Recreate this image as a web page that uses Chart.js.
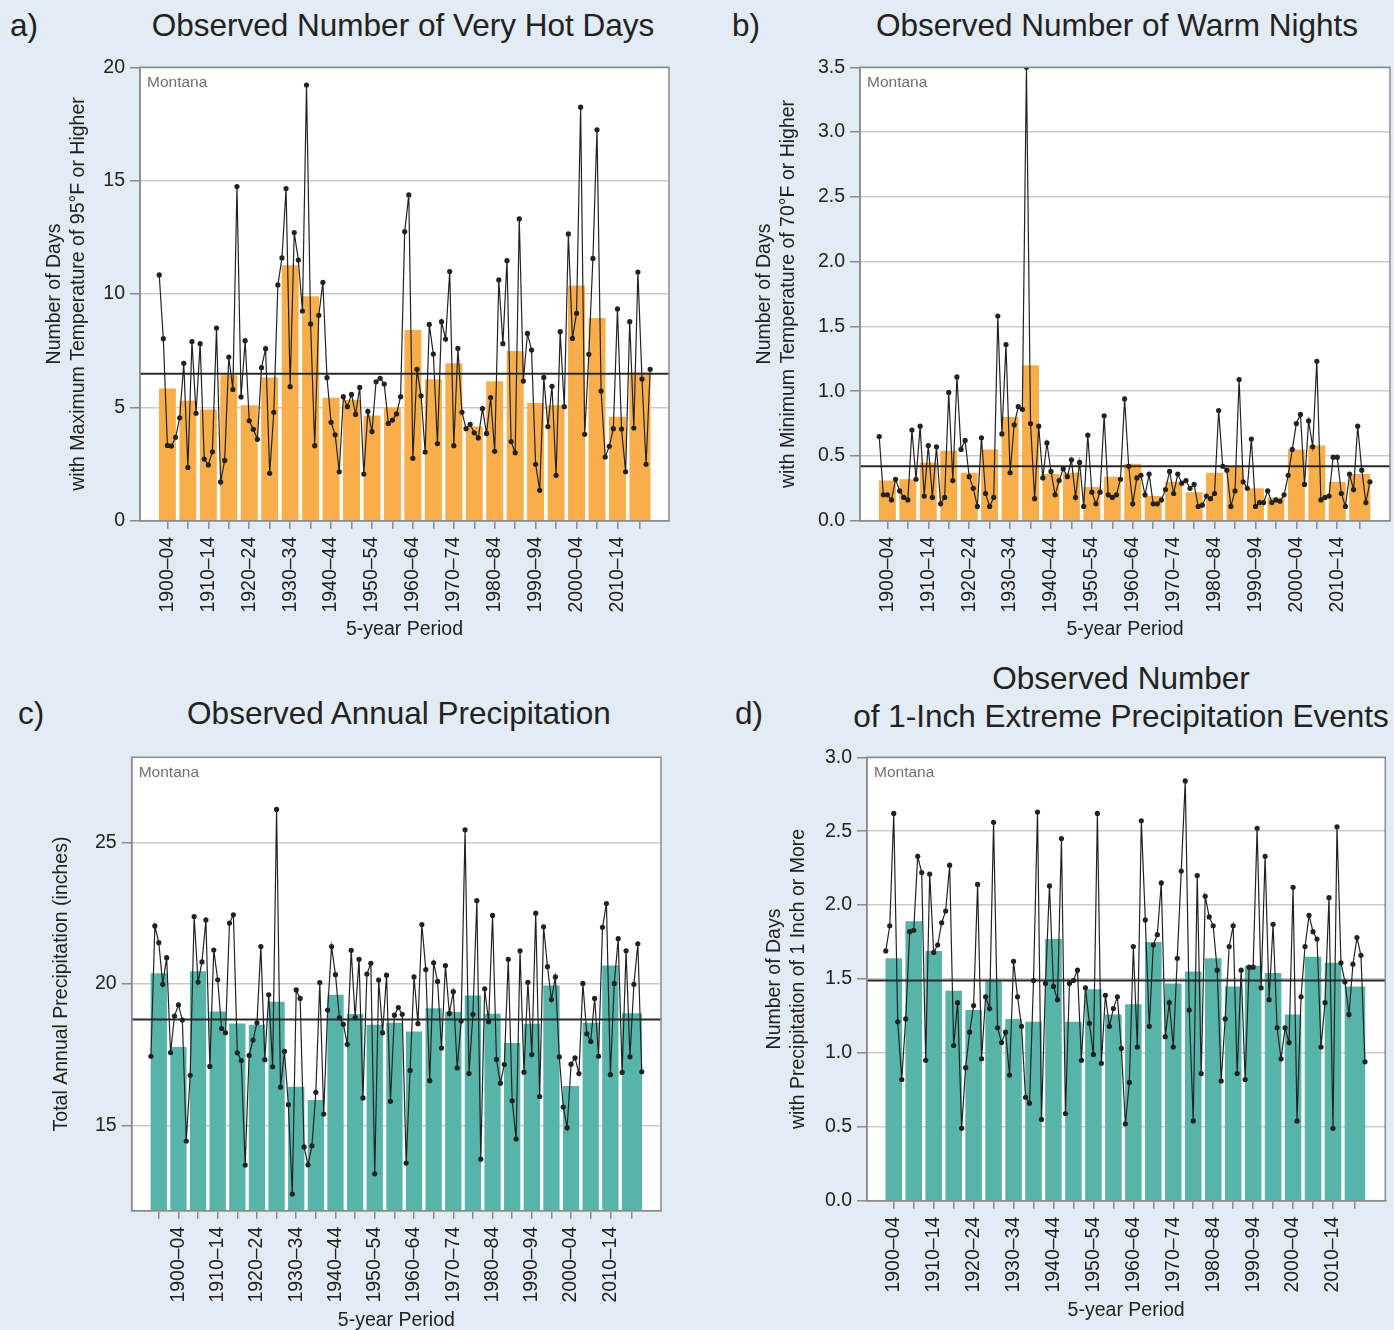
<!DOCTYPE html>
<html>
<head>
<meta charset="utf-8">
<script src="https://cdn.jsdelivr.net/npm/chart.js@4.4.0/dist/chart.umd.min.js"></script>
<style>
  body { margin: 0; background: #e3ebf4; font-family: "Liberation Sans", Arial, sans-serif; color: #222; }
  #page { position: relative; width: 1394px; height: 1330px; overflow: hidden; }
  .panel { position: absolute; }
  .tag, .title { position: absolute; font-size: 31.5px; line-height: 32px; white-space: nowrap; }
  .title { transform: translateX(-50%); text-align: center; }
</style>
</head>
<body>
<div id="page">
  <div class="tag" style="left:10px;top:9px">a)</div>
  <div class="title" style="left:403px;top:9px">Observed Number of Very Hot Days</div>
  <div class="tag" style="left:732px;top:9px">b)</div>
  <div class="title" style="left:1117px;top:9px">Observed Number of Warm Nights</div>
  <div class="tag" style="left:18px;top:697px">c)</div>
  <div class="title" style="left:399px;top:697px">Observed Annual Precipitation</div>
  <div class="tag" style="left:735px;top:697px">d)</div>
  <div class="title" style="left:1121px;top:659px;line-height:38px">Observed Number<br>of 1-Inch Extreme Precipitation Events</div>

  <canvas id="chartA" class="panel" width="697" height="665" style="left:0;top:0"></canvas>
  <canvas id="chartB" class="panel" width="697" height="665" style="left:697px;top:0"></canvas>
  <canvas id="chartC" class="panel" width="697" height="665" style="left:0;top:665px"></canvas>
  <canvas id="chartD" class="panel" width="697" height="665" style="left:697px;top:665px"></canvas>
</div>

<script>
// ---- categories ----
const years1900 = [];
for (let y = 1900; y <= 2020; y++) years1900.push(y);
const years1895 = [];
for (let y = 1895; y <= 2020; y++) years1895.push(y);

const periods1900 = ["1900–04","1905–09","1910–14","1915–19","1920–24","1925–29","1930–34","1935–39",
  "1940–44","1945–49","1950–54","1955–59","1960–64","1965–69","1970–74","1975–79","1980–84","1985–89",
  "1990–94","1995–99","2000–04","2005–09","2010–14","2015–20"];
const periods1895 = ["1895–99"].concat(periods1900);

// ---- a) very hot days ----
const hotDays = [
  10.84, 8.03, 3.32, 3.29, 3.68, 4.54, 6.94, 2.35, 7.90, 4.74,
  7.81, 2.72, 2.46, 3.04, 8.50, 1.71, 2.66, 7.22, 5.79, 14.74,
  5.46, 7.94, 4.41, 4.03, 3.59, 6.75, 7.59, 2.09, 4.78, 10.40,
  11.59, 14.65, 5.91, 12.71, 11.50, 9.25, 19.22, 8.68, 3.31, 9.06,
  10.51, 6.31, 4.34, 3.79, 2.16, 5.47, 5.03, 5.57, 4.69, 5.88,
  2.06, 4.82, 3.93, 6.13, 6.28, 6.03, 4.29, 4.44, 4.71, 5.47,
  12.75, 14.37, 2.75, 6.68, 5.51, 3.03, 8.66, 7.35, 3.40, 8.78,
  8.01, 10.99, 3.31, 7.60, 4.78, 4.06, 4.25, 3.88, 3.65, 4.94,
  3.85, 5.43, 3.06, 10.62, 7.81, 11.47, 3.49, 3.00, 13.31, 6.16,
  8.26, 7.53, 2.49, 1.34, 6.32, 4.15, 5.93, 2.00, 8.34, 5.03,
  12.65, 8.04, 9.15, 18.24, 3.81, 7.34, 11.57, 17.24, 5.72, 2.81,
  3.28, 4.06, 9.34, 4.04, 2.16, 8.78, 4.09, 10.97, 6.25, 2.49,
  6.68];
const hotBars = [5.83, 5.29, 4.91, 6.42, 5.09, 6.32, 11.27, 9.90, 5.42, 5.33, 4.64, 4.99,
  8.41, 6.24, 6.94, 4.16, 6.15, 7.49, 5.19, 5.09, 10.38, 8.94, 4.58, 6.54];
const hotAverage = 6.48;

// ---- b) warm nights ----
const warmNights = [
  0.65, 0.20, 0.20, 0.16, 0.32, 0.23, 0.18, 0.16, 0.70, 0.32,
  0.73, 0.19, 0.58, 0.18, 0.57, 0.13, 0.18, 0.99, 0.31, 1.11,
  0.55, 0.62, 0.34, 0.25, 0.11, 0.64, 0.21, 0.11, 0.18, 1.58,
  0.67, 1.36, 0.37, 0.74, 0.88, 0.86, 3.50, 0.75, 0.17, 0.73,
  0.33, 0.60, 0.38, 0.20, 0.31, 0.40, 0.34, 0.47, 0.18, 0.45,
  0.11, 0.66, 0.22, 0.13, 0.22, 0.81, 0.20, 0.18, 0.20, 0.32,
  0.94, 0.42, 0.13, 0.33, 0.35, 0.20, 0.36, 0.13, 0.13, 0.16,
  0.24, 0.38, 0.21, 0.36, 0.29, 0.31, 0.25, 0.28, 0.11, 0.12,
  0.19, 0.17, 0.21, 0.85, 0.42, 0.39, 0.11, 0.23, 1.09, 0.30,
  0.25, 0.63, 0.11, 0.14, 0.14, 0.23, 0.14, 0.16, 0.15, 0.20,
  0.35, 0.55, 0.75, 0.82, 0.28, 0.77, 0.57, 1.23, 0.16, 0.18,
  0.19, 0.49, 0.49, 0.21, 0.11, 0.36, 0.24, 0.73, 0.39, 0.14,
  0.30];
const warmBars = [0.31, 0.32, 0.45, 0.54, 0.37, 0.55, 0.80, 1.20, 0.36, 0.37, 0.26, 0.34,
  0.44, 0.19, 0.30, 0.22, 0.37, 0.42, 0.25, 0.18, 0.55, 0.58, 0.30, 0.36];
const warmAverage = 0.42;

// ---- c) annual precipitation (inches), from 1895 ----
const precip = [
  17.45, 22.05, 21.46, 19.99, 20.93,
  17.58, 18.87, 19.26, 18.73, 14.46, 16.78, 22.38, 20.07, 20.78, 22.26,
  17.09, 21.20, 20.15, 18.43, 18.28, 22.15, 22.44, 17.57, 17.30, 13.61,
  17.48, 18.02, 18.63, 21.32, 17.33, 19.62, 17.08, 26.16, 16.36, 17.62,
  15.74, 12.59, 19.79, 19.49, 14.25, 13.62, 14.29, 16.18, 20.05, 15.41,
  19.08, 21.32, 20.33, 18.81, 18.58, 17.87, 21.19, 18.81, 20.87, 15.98,
  20.35, 20.73, 13.30, 20.14, 18.28, 20.31, 15.86, 18.90, 19.17, 18.93,
  13.68, 16.95, 20.25, 18.60, 22.10, 20.51, 16.59, 20.75, 20.09, 17.74,
  20.65, 18.96, 19.73, 17.04, 18.69, 25.44, 16.84, 18.93, 22.94, 13.82,
  19.83, 18.67, 22.42, 17.34, 16.50, 17.16, 20.87, 15.88, 14.53, 21.17,
  16.89, 20.06, 17.51, 22.50, 16.03, 22.02, 20.61, 19.45, 20.25, 17.43,
  15.66, 14.93, 17.17, 17.39, 16.84, 20.02, 18.24, 17.97, 19.49, 17.45,
  22.00, 22.84, 16.80, 20.02, 21.60, 16.88, 21.17, 17.43, 19.99, 21.42,
  16.90];
const precipBars = [20.38, 17.78, 20.45, 19.03, 18.61, 18.56, 19.37, 16.37, 15.91, 19.62, 18.94, 18.56,
  18.63, 18.32, 19.14, 19.01, 19.59, 18.95, 17.92, 18.60, 19.95, 16.40, 18.63, 20.65, 18.97];
const precipAverage = 18.75;
const precipTicks = [15, 20, 25];

// ---- d) 1-inch extreme precipitation events ----
const extremeDays = [
  1.69, 1.86, 2.62, 1.21, 0.82, 1.23, 1.82, 1.83, 2.33, 2.22,
  0.95, 2.21, 1.68, 1.73, 1.88, 1.96, 2.27, 1.05, 1.34, 0.49,
  0.90, 1.14, 1.32, 2.14, 0.96, 1.38, 1.30, 2.56, 1.17, 1.07,
  1.14, 0.85, 1.62, 1.38, 1.18, 0.70, 0.66, 1.49, 2.63, 0.55,
  1.47, 2.13, 1.45, 1.36, 2.45, 0.59, 1.47, 1.49, 1.56, 0.95,
  1.44, 1.20, 0.99, 2.62, 0.93, 1.39, 1.18, 1.30, 1.38, 1.03,
  0.52, 0.80, 1.72, 1.04, 2.57, 1.90, 1.18, 1.73, 1.80, 2.15,
  1.11, 1.34, 1.04, 1.64, 2.23, 2.84, 1.29, 0.54, 2.20, 0.86,
  2.06, 1.92, 1.86, 1.56, 0.81, 1.23, 1.72, 1.86, 0.86, 1.56,
  0.82, 1.58, 1.58, 2.52, 1.44, 2.33, 1.36, 1.87, 1.17, 0.96,
  1.17, 1.07, 2.12, 0.54, 1.38, 1.72, 1.93, 1.82, 1.77, 1.04,
  1.34, 2.05, 0.49, 2.53, 1.61, 1.48, 1.26, 1.60, 1.78, 1.66,
  0.94];
const extremeBars = [1.64, 1.89, 1.69, 1.42, 1.29, 1.49, 1.23, 1.21, 1.77, 1.21, 1.43, 1.26,
  1.33, 1.75, 1.47, 1.55, 1.64, 1.45, 1.59, 1.54, 1.26, 1.65, 1.61, 1.45];
const extremeAverage = 1.49;

// ---- styling ----
Chart.defaults.font.family = '"Liberation Sans", Arial, sans-serif';
Chart.defaults.color = '#222';
const ORANGE = '#f9ae4c';
const TEAL = '#57b4a9';

const framePlugin = {
  id: 'frame',
  beforeDraw(chart) {
    const a = chart.chartArea, ctx = chart.ctx;
    ctx.save();
    ctx.fillStyle = '#fff';
    ctx.fillRect(a.left, a.top, a.right - a.left, a.bottom - a.top);
    ctx.restore();
  },
  afterDatasetsDraw(chart, args, opts) {
    const a = chart.chartArea, ctx = chart.ctx;
    ctx.save();
    ctx.strokeStyle = '#8a8a8a';
    ctx.lineWidth = 1.5;
    ctx.strokeRect(a.left, a.top, a.right - a.left, a.bottom - a.top);
    ctx.fillStyle = '#707070';
    ctx.font = '15.5px "Liberation Sans Narrow", "Liberation Sans", Arial, sans-serif';
    ctx.fillText(opts.text || '', a.left + 7, a.top + 20);
    ctx.restore();
  }
};

function makePanel(id, p) {
  const last = p.periods.length - 1;
  // bar centre = middle of the years in the period (last period has 6 years)
  const centre = i => parseInt(p.periods[i]) + (i === last ? 2.5 : 2);
  const centres = p.periods.map((lab, i) => centre(i));

  return new Chart(document.getElementById(id), {
    type: 'bar',
    data: {
      datasets: [
        {
          type: 'line',
          data: p.years.map((y, i) => ({x: y, y: p.values[i]})),
          borderColor: '#222',
          borderWidth: 1.2,
          pointRadius: 2.6,
          pointBackgroundColor: '#222',
          pointBorderWidth: 0,
          tension: 0,
          order: 1
        },
        {
          type: 'line',
          data: [{x: p.xMin, y: p.average}, {x: p.xMax, y: p.average}],
          borderColor: '#2a2a2a',
          borderWidth: 2,
          pointRadius: 0,
          order: 2
        },
        {
          type: 'bar',
          data: p.bars.slice(0, last).map((v, i) => ({x: centre(i), y: v})),
          backgroundColor: p.color,
          grouped: false,
          categoryPercentage: 1,
          barPercentage: 0.83,
          order: 3
        },
        {
          type: 'bar',
          data: [{x: centre(last), y: p.bars[last]}],
          backgroundColor: p.color,
          grouped: false,
          categoryPercentage: 1,
          barPercentage: 1.03,
          order: 3
        }
      ]
    },
    options: {
      responsive: false,
      animation: false,
      events: [],
      layout: { padding: p.padding },
      plugins: {
        legend: { display: false },
        tooltip: { enabled: false },
        frame: { text: 'Montana' }
      },
      scales: {
        x: {
          type: 'linear',
          offset: false,
          min: p.xMin,
          max: p.xMax,
          afterBuildTicks: s => { s.ticks = centres.map(v => ({value: v})); },
          afterFit: s => { s.height = p.xHeight; },
          ticks: {
            autoSkip: false,
            minRotation: 90,
            maxRotation: 90,
            padding: 8,
            color: '#222',
            font: { size: 19.5 },
            callback: (v, i) => {
              const lab = p.periods[i];
              return parseInt(lab) % 10 === 0 ? lab : '';
            }
          },
          grid: { offset: false, drawOnChartArea: false, drawTicks: true, tickLength: 8, color: '#8a8a8a', lineWidth: 1.5 },
          border: { display: true, color: '#8a8a8a', width: 1.5 },
          title: {
            display: true,
            text: '5-year Period',
            color: '#222',
            font: { size: 19.5, lineHeight: p.xTitleLine },
            padding: { top: 0, bottom: p.xTitlePad }
          }
        },
        y: {
          min: p.yMin,
          max: p.yMax,
          afterBuildTicks: p.yTicks ? (s => { s.ticks = p.yTicks.map(v => ({value: v})); }) : undefined,
          afterFit: s => { s.width = p.yWidth; },
          ticks: {
            stepSize: p.yStep,
            padding: 5,
            color: '#222',
            font: { size: 19.5 },
            callback: v => p.yDecimals ? v.toFixed(p.yDecimals) : String(v)
          },
          grid: { color: '#cbcbcb', lineWidth: 1.5, tickColor: '#8a8a8a', tickLength: 10 },
          border: { display: true, color: '#8a8a8a', width: 1.5 },
          title: {
            display: true,
            text: p.yTitle,
            color: '#222',
            font: { size: 19.5, lineHeight: 1.2 },
            padding: 0
          }
        }
      }
    },
    plugins: [framePlugin]
  });
}

// a)
makePanel('chartA', {
  years: years1900, values: hotDays, periods: periods1900, bars: hotBars, average: hotAverage,
  color: ORANGE, xMin: 1895.3, xMax: 2024.6, yMin: 0, yMax: 20, yStep: 5, yDecimals: 0,
  yTitle: ['Number of Days', 'with Maximum Temperature of 95°F or Higher'],
  padding: { left: 43.3, top: 67.3, right: 28, bottom: 0 }, yWidth: 96.7, xHeight: 144.3,
  xTitlePad: 23.3, xTitleLine: 1.2
});

// b)
makePanel('chartB', {
  years: years1900, values: warmNights, periods: periods1900, bars: warmBars, average: warmAverage,
  color: ORANGE, xMin: 1895.3, xMax: 2024.9, yMin: 0, yMax: 3.5, yStep: 0.5, yDecimals: 1,
  yTitle: ['Number of Days', 'with Minimum Temperature of 70°F or Higher'],
  padding: { left: 56.3, top: 67.3, right: 4, bottom: 0 }, yWidth: 106.7, xHeight: 144.3,
  xTitlePad: 23.3, xTitleLine: 1.2
});

// c)
makePanel('chartC', {
  years: years1895, values: precip, periods: periods1895, bars: precipBars, average: precipAverage,
  color: TEAL, xMin: 1890.1, xMax: 2024.9, yMin: 12, yMax: 28, yTicks: precipTicks, yDecimals: 0,
  yTitle: 'Total Annual Precipitation (inches)',
  padding: { left: 50.3, top: 92.3, right: 36, bottom: 0 }, yWidth: 81.4, xHeight: 119.3,
  xTitlePad: 0, xTitleLine: 1.0
});

// d)
makePanel('chartD', {
  years: years1900, values: extremeDays, periods: periods1900, bars: extremeBars, average: extremeAverage,
  color: TEAL, xMin: 1895.3, xMax: 2025.1, yMin: 0, yMax: 3.0, yStep: 0.5, yDecimals: 1,
  yTitle: ['Number of Days', 'with Precipitation of 1 Inch or More'],
  padding: { left: 66.3, top: 92.3, right: 8.7, bottom: 0 }, yWidth: 103.7, xHeight: 129.3,
  xTitlePad: 7.3, xTitleLine: 1.2
});
</script>
</body>
</html>
